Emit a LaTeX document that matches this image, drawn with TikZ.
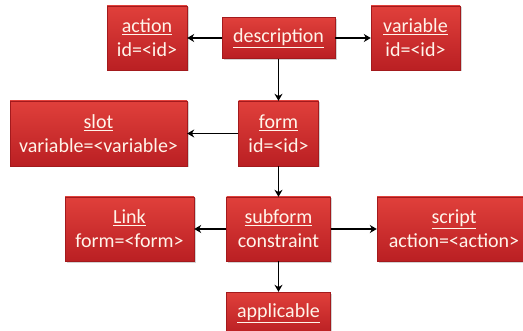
\documentclass[tikz,border=0pt]{standalone}
\usepackage{fontspec}
\setmainfont{Carlito}
\usetikzlibrary{arrows.meta,shadows}
\definecolor{boxtop}{HTML}{E0403B}
\definecolor{boxbot}{HTML}{BA1F23}
\definecolor{boxedge}{HTML}{A31A1D}
\definecolor{paper}{HTML}{FFF4EA}
\tikzset{
  box/.style={top color=boxtop, bottom color=boxbot, draw=boxedge, line width=0.4pt, align=center, inner sep=2pt, font=\fontsize{20}{24}\selectfont, text=paper, drop shadow={shadow xshift=1.5pt, shadow yshift=-1.5pt, opacity=0.35}},
  arr/.style={-{Stealth[length=7pt,width=8pt]}, line width=1.6pt, draw=black},
}

\begin{document}
\begin{tikzpicture}[x=1pt,y=1pt]
    \useasboundingbox (0,0) rectangle (523,330);
    % top row
    \node[box, minimum width=80pt, minimum height=64pt] (action) at (147,292) {\underline{action}\\id=<id>};
    \node[box, minimum width=113pt, minimum height=41pt] (description) at (278.5,292) {\underline{description}};
    \node[box, minimum width=89pt, minimum height=64pt] (variable) at (415.5,292) {\underline{variable}\\id=<id>};
    % middle row
    \node[box, minimum width=177pt, minimum height=65pt] (slot) at (98.5,196.5) {\underline{slot}\\variable=<variable>};
    \node[box, minimum width=80pt, minimum height=65pt] (form) at (278.5,196.5) {\underline{form}\\id=<id>};
    % lower rows
    \node[box, minimum width=129pt, minimum height=64pt] (link) at (129.5,101) {\underline{Link}\\form=<form>};
    \node[box, minimum width=104pt, minimum height=64pt] (subform) at (278.5,101) {\underline{subform}\\constraint};
    \node[box, minimum width=154pt, minimum height=64pt] (script) at (454,101) {\underline{script}\\action=<action>};
    \node[box, minimum width=104pt, minimum height=42pt] (applicable) at (278.5,17) {\underline{applicable}};

    \draw[arr] (description) -- (action);
    \draw[arr] (description) -- (variable);
    \draw[arr] (description) -- (form);
    \draw[arr] (form) -- (slot);
    \draw[arr] (form) -- (subform);
    \draw[arr] (subform) -- (link);
    \draw[arr] (subform) -- (script);
    \draw[arr] (subform) -- (applicable);
  \end{tikzpicture}
\end{document}
